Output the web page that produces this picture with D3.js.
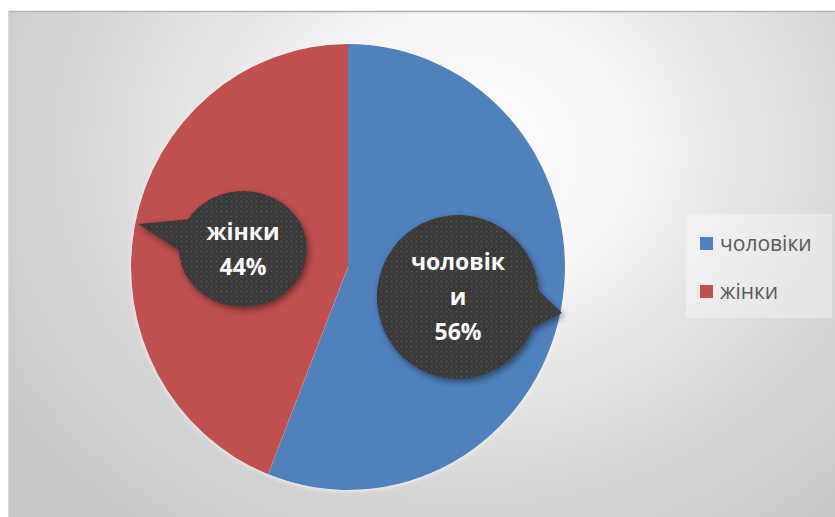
<!DOCTYPE html>
<html>
<head>
<meta charset="utf-8">
<script src="https://cdn.jsdelivr.net/npm/d3@7"></script>
<style>
  html, body { margin: 0; padding: 0; background: #ffffff; }
  svg { display: block; }
</style>
</head>
<body>
<svg id="chart" width="835" height="517"></svg>
<script>
// Gender split of respondents
const categories = ["чоловіки", "жінки"];
const values = [56, 44];
const colors = ["#4f81bd", "#c0504d"];
// Data-label wording, broken into lines as shown inside each callout
const labelLines = [["чоловік", "и"], ["жінки"]];

const W = 835, H = 517;
const svg = d3.select("#chart");
const defs = svg.append("defs");

// Soft radial background
const bg = defs.append("radialGradient").attr("id", "bgGrad")
  .attr("gradientUnits", "userSpaceOnUse")
  .attr("cx", 470).attr("cy", 150).attr("r", 560)
  .attr("gradientTransform", "translate(470,150) scale(1,0.85) translate(-470,-150)");
bg.append("stop").attr("offset", "0%").attr("stop-color", "#ffffff");
bg.append("stop").attr("offset", "28%").attr("stop-color", "#f5f5f5");
bg.append("stop").attr("offset", "72%").attr("stop-color", "#d5d5d5");
bg.append("stop").attr("offset", "100%").attr("stop-color", "#c8c8c8");

// Dotted dark fill for the callouts
const pat = defs.append("pattern").attr("id", "dots")
  .attr("patternUnits", "userSpaceOnUse").attr("width", 5).attr("height", 5);
pat.append("rect").attr("width", 5).attr("height", 5).attr("fill", "#383838");
pat.append("circle").attr("cx", 1.5).attr("cy", 1.5).attr("r", 1).attr("fill", "#56504a");
pat.append("circle").attr("cx", 4).attr("cy", 4).attr("r", 0.7).attr("fill", "#4a4744");

const shadow = defs.append("filter").attr("id", "shadow")
  .attr("x", "-30%").attr("y", "-30%").attr("width", "160%").attr("height", "160%");
shadow.append("feDropShadow").attr("dx", 2).attr("dy", 3).attr("stdDeviation", 3)
  .attr("flood-color", "#000").attr("flood-opacity", 0.45);

const pieShadow = defs.append("filter").attr("id", "pieShadow")
  .attr("x", "-20%").attr("y", "-20%").attr("width", "140%").attr("height", "140%");
pieShadow.append("feDropShadow").attr("dx", 0).attr("dy", 1).attr("stdDeviation", 2)
  .attr("flood-color", "#ffffff").attr("flood-opacity", 0.7);

// Chart area
svg.append("rect").attr("x", 8).attr("y", 11).attr("width", W - 8).attr("height", H - 11)
  .attr("fill", "url(#bgGrad)");
svg.append("line").attr("x1", 8).attr("x2", W).attr("y1", 11.5).attr("y2", 11.5)
  .attr("stroke", "#b4b4b4").attr("stroke-width", 1.5);
svg.append("line").attr("x1", 8.5).attr("x2", 8.5).attr("y1", 11).attr("y2", H)
  .attr("stroke", "#dadada").attr("stroke-width", 1);

// Pie
const cx = 348, cy = 267, r = 217, yScale = 223 / 217;
const pie = d3.pie().sort(null).value(d => d)(values);
const arc = d3.arc().innerRadius(0).outerRadius(r);

const pieG = svg.append("g")
  .attr("transform", `translate(${cx},${cy}) scale(1,${yScale})`)
  .attr("filter", "url(#pieShadow)");
pieG.selectAll("path.slice").data(pie).join("path")
  .attr("class", "slice")
  .attr("d", arc)
  .attr("fill", (d, i) => colors[i]);

// Callout geometry for each slice label: bubble centre, radii, pointer tip
const callouts = [
  { cx: 458, cy: 297, rx: 81, ry: 82, tip: [562, 313], spread: 13 },
  { cx: 243, cy: 249, rx: 64, ry: 58, tip: [138, 224], spread: 16 }
];

function bubblePath(c) {
  const ang = Math.atan2((c.tip[1] - c.cy) / c.ry, (c.tip[0] - c.cx) / c.rx);
  const d = c.spread * Math.PI / 180;
  const p = a => [c.cx + c.rx * Math.cos(a), c.cy + c.ry * Math.sin(a)];
  const p1 = p(ang - d), p2 = p(ang + d);
  return `M${p1[0]},${p1[1]} L${c.tip[0]},${c.tip[1]} L${p2[0]},${p2[1]} ` +
         `A${c.rx},${c.ry} 0 1 1 ${p1[0]},${p1[1]} Z`;
}

const labels = svg.append("g");
callouts.forEach((c, i) => {
  labels.append("path").attr("d", bubblePath(c))
    .attr("fill", "url(#dots)").attr("filter", "url(#shadow)");
  const lines = labelLines[i].concat([`${values[i]}%`]);
  const lh = 35;
  const y0 = c.cy - (lines.length - 1) * lh / 2;
  const t = labels.append("text")
    .attr("text-anchor", "middle")
    .attr("font-family", "'Open Sans', 'DejaVu Sans', sans-serif")
    .attr("font-weight", "bold")
    .attr("font-size", 23)
    .attr("fill", "#ffffff");
  lines.forEach((s, k) => {
    t.append("tspan").attr("x", c.cx).attr("y", y0 + k * lh).attr("dy", "0.35em").text(s);
  });
});

// Legend
const lg = svg.append("g");
lg.append("rect").attr("x", 686).attr("y", 214).attr("width", 146).attr("height", 104)
  .attr("fill", "#ffffff").attr("fill-opacity", 0.35);
categories.forEach((name, i) => {
  const y = 243 + i * 48;
  lg.append("rect").attr("x", 700).attr("y", y - 6).attr("width", 13).attr("height", 13)
    .attr("fill", colors[i]);
  lg.append("text").attr("x", 720).attr("y", y).attr("dy", "0.38em")
    .attr("font-family", "'Open Sans', 'DejaVu Sans', sans-serif")
    .attr("font-size", 21).attr("fill", "#595959").text(name);
});
</script>
</body>
</html>
